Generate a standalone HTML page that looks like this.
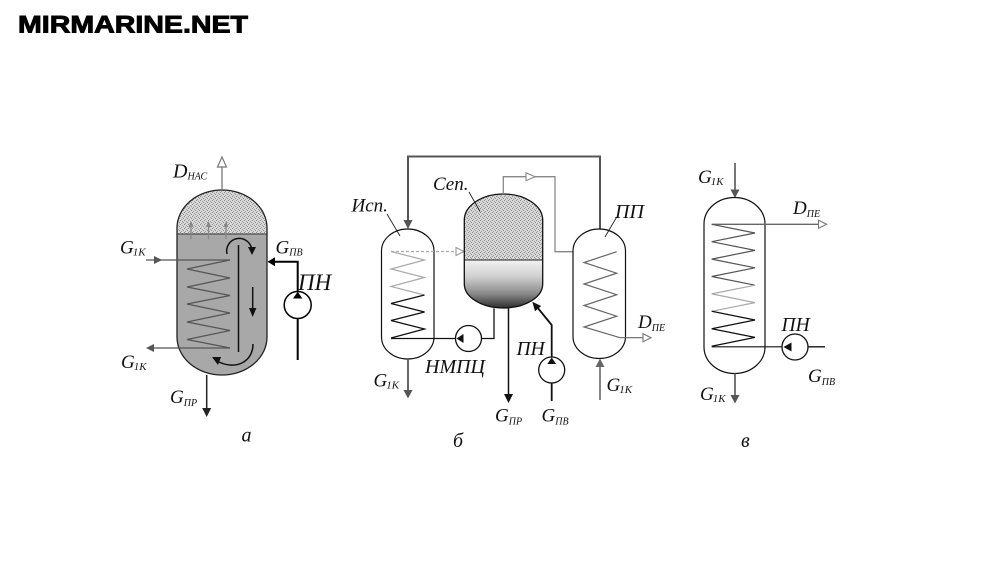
<!DOCTYPE html>
<html><head><meta charset="utf-8">
<style>
html,body{margin:0;padding:0;background:#fff}
svg{display:block}
.t{font-family:"Liberation Serif","DejaVu Serif",serif;font-style:italic;fill:#111}
.logo{font-family:"Liberation Sans",sans-serif;font-weight:bold;fill:#000}
</style></head>
<body>
<svg width="1000" height="580" viewBox="0 0 1000 580" xmlns="http://www.w3.org/2000/svg">
<defs>
<pattern id="sp" width="4" height="4" patternUnits="userSpaceOnUse">
<rect width="4" height="4" fill="#d8d8d8"/>
<rect x="0" y="0" width="1" height="1" fill="#8a8a8a"/>
<rect x="2" y="1" width="1" height="1" fill="#999"/>
<rect x="1" y="3" width="1" height="1" fill="#9a9a9a"/>
<rect x="3" y="2" width="1" height="1" fill="#8e8e8e"/>
</pattern>
<linearGradient id="lg" x1="0" y1="260" x2="0" y2="308" gradientUnits="userSpaceOnUse">
<stop offset="0" stop-color="#f2f2f2"/>
<stop offset="0.35" stop-color="#cfcfcf"/>
<stop offset="0.7" stop-color="#8a8a8a"/>
<stop offset="1" stop-color="#2e2e2e"/>
</linearGradient>
<clipPath id="ca"><path d="M177,228 A45,38 0 0 1 267,228 L267,337 A45,38 0 0 1 177,337 Z"/></clipPath>
<clipPath id="cs"><path d="M464.3,220 A39.2,26 0 0 1 542.7,220 L542.7,284 A39.2,24 0 0 1 464.3,284 Z"/></clipPath>
</defs>

<rect width="1000" height="580" fill="#fff"/>

<!-- logo -->
<text class="logo" x="18" y="32.5" font-size="24" textLength="230" lengthAdjust="spacingAndGlyphs" stroke="#000" stroke-width="0.9">MIRMARINE.NET</text>

<!-- ================= Diagram a ================= -->
<g clip-path="url(#ca)">
<rect x="170" y="185" width="100" height="49" fill="url(#sp)"/>
<rect x="170" y="234" width="100" height="145" fill="#a8a8a8"/>
</g>
<path d="M177,228 A45,38 0 0 1 267,228 L267,337 A45,38 0 0 1 177,337 Z" fill="none" stroke="#222" stroke-width="1.3"/>
<line x1="177" y1="234" x2="267" y2="234" stroke="#333" stroke-width="1"/>

<!-- steam arrows inside dome -->
<g stroke="#888" stroke-width="1.3" fill="#888">
<line x1="191" y1="239" x2="191" y2="226"/><polygon points="191,221 188.5,227 193.5,227" stroke="none"/>
<line x1="208.5" y1="239" x2="208.5" y2="226"/><polygon points="208.5,221 206,227 211,227" stroke="none"/>
<line x1="226" y1="239" x2="226" y2="226"/><polygon points="226,221 223.5,227 228.5,227" stroke="none"/>
</g>

<!-- D_HAC outlet -->
<line x1="222" y1="190" x2="222" y2="167" stroke="#777" stroke-width="1.3"/>
<polygon points="222,157 217.5,167 226.5,167" fill="#fff" stroke="#777" stroke-width="1.2"/>

<!-- coil a -->
<g stroke="#555" stroke-width="1.2" fill="none">
<line x1="146" y1="260" x2="230" y2="260"/>
<polyline points="230,260 187,269 230,278 187,287 230,295.5 187,304 230,313 187,322 230,330.5 187,339.5 230,348"/>
<line x1="230" y1="348" x2="150" y2="348"/>
</g>
<polygon points="162,260 154,256 154,264" fill="#555"/>
<polygon points="146,348 154,344 154,352" fill="#555"/>

<!-- baffle and circulation arrows -->
<line x1="238.5" y1="245" x2="238.5" y2="352" stroke="#111" stroke-width="1.5"/>
<path d="M227,254 A12.5,12.5 0 0 1 251.5,248" fill="none" stroke="#111" stroke-width="1.5"/>
<polygon points="248,247 256,247 252,255" fill="#111"/>
<line x1="252.7" y1="287" x2="252.7" y2="309" stroke="#111" stroke-width="1.5"/>
<polygon points="249,308 256.4,308 252.7,317" fill="#111"/>
<path d="M253,344 C253,362 236,370 219,362" fill="none" stroke="#111" stroke-width="1.5"/>
<polygon points="212,357 221,357 218,365" fill="#111"/>

<!-- drain G_ПР -->
<line x1="206.7" y1="375" x2="206.7" y2="409" stroke="#222" stroke-width="1.5"/>
<polygon points="206.7,417 202.2,408 211.2,408" fill="#222"/>

<!-- feed pump a -->
<polyline points="297.7,291.5 297.7,261.7 274,261.7" fill="none" stroke="#000" stroke-width="2"/>
<polygon points="267.5,261.7 275,257.2 275,266.2" fill="#000"/>
<line x1="297.7" y1="318.5" x2="297.7" y2="360" stroke="#000" stroke-width="2"/>
<circle cx="297.7" cy="305" r="13.5" fill="#fff" stroke="#000" stroke-width="1.5"/>
<polygon points="297.7,291.7 293,298.5 302.4,298.5" fill="#000"/>

<!-- labels a -->
<text class="t" x="173" y="177.5" font-size="20">D<tspan font-size="10" dy="2">НАС</tspan></text>
<text class="t" x="120" y="253.5" font-size="19">G<tspan font-size="11" dx="-1" dy="2">1K</tspan></text>
<text class="t" x="275.5" y="253.5" font-size="19">G<tspan font-size="10" dy="2">ПВ</tspan></text>
<text class="t" x="298" y="290" font-size="23">ПН</text>
<text class="t" x="121" y="368" font-size="19">G<tspan font-size="11" dx="-1" dy="2">1K</tspan></text>
<text class="t" x="170" y="403" font-size="19">G<tspan font-size="10" dy="3">ПР</tspan></text>
<text class="t" x="241.5" y="441.5" font-size="20">а</text>

<!-- ================= Diagram б ================= -->
<polyline points="408,221 408,156.5 600,156.5 600,229.3" fill="none" stroke="#555" stroke-width="2"/>
<polygon points="408,229 403.5,220 412.5,220" fill="#555"/>

<!-- left vessel (Исп.) -->
<path d="M381.5,251 A26.25,22 0 0 1 434,251 L434,337 A26.25,22 0 0 1 381.5,337 Z" fill="#fff" stroke="#111" stroke-width="1.2"/>
<line x1="391" y1="251.5" x2="456" y2="251.5" stroke="#aaa" stroke-width="1.3" stroke-dasharray="3,2"/>
<polygon points="464,251.5 456,247.5 456,255.5" fill="#fff" stroke="#999" stroke-width="1.1"/>
<polyline points="391,251.5 424.5,260 391,269 424.5,277.5 391,286.5 424.5,295" fill="none" stroke="#aaa" stroke-width="1.2"/>
<polyline points="424.5,295 391,303.5 424.5,312 391,320.5 424.5,329 391,338" fill="none" stroke="#111" stroke-width="1.3"/>
<line x1="391" y1="338.5" x2="456" y2="338.5" stroke="#111" stroke-width="1.2"/>

<line x1="408" y1="359" x2="408" y2="391" stroke="#555" stroke-width="1.8"/>
<polygon points="408,398.5 403.5,390 412.5,390" fill="#555"/>

<!-- НМПЦ pump -->
<polyline points="481.5,338.5 494,338.5 494,308.3" fill="none" stroke="#111" stroke-width="1.3"/>
<circle cx="468.5" cy="338.5" r="13" fill="#fff" stroke="#111" stroke-width="1.3"/>
<polygon points="456.5,338.5 463.5,334 463.5,343" fill="#111"/>

<!-- separator -->
<g clip-path="url(#cs)">
<rect x="460" y="190" width="90" height="70" fill="url(#sp)"/>
<rect x="460" y="260" width="90" height="52" fill="url(#lg)"/>
</g>
<path d="M464.3,220 A39.2,26 0 0 1 542.7,220 L542.7,284 A39.2,24 0 0 1 464.3,284 Z" fill="none" stroke="#111" stroke-width="1.3"/>
<line x1="464.3" y1="260" x2="542.7" y2="260" stroke="#222" stroke-width="1"/>

<!-- steam line -->
<polyline points="503.3,194.3 503.3,176.7 555,176.7 555,251.7 617,251.7" fill="none" stroke="#888" stroke-width="1.3"/>
<polygon points="535,176.7 526,172.7 526,180.7" fill="#fff" stroke="#888" stroke-width="1.1"/>

<!-- drain -->
<line x1="508.5" y1="308.3" x2="508.5" y2="395" stroke="#111" stroke-width="1.5"/>
<polygon points="508.5,403 504,394 513,394" fill="#111"/>

<!-- feed pump б -->
<polyline points="551.7,357 551.7,325 537,307" fill="none" stroke="#111" stroke-width="1.8"/>
<polygon points="532.3,301.7 541.2,306 535,311.2" fill="#111"/>
<line x1="551.7" y1="383" x2="551.7" y2="401" stroke="#111" stroke-width="1.8"/>
<circle cx="551.7" cy="370" r="13" fill="#fff" stroke="#111" stroke-width="1.3"/>
<polygon points="551.7,357.5 547.3,364 556.1,364" fill="#111"/>

<!-- ПП vessel -->
<path d="M573,251 A26.25,22 0 0 1 625.5,251 L625.5,336.5 A26.25,22 0 0 1 573,336.5 Z" fill="#fff" stroke="#111" stroke-width="1.2"/>
<polyline points="616.7,251.7 584,262.5 616.7,273.2 584,284 616.7,294.7 584,305.5 616.7,316.2 584,327 620,337.7 643,337.7" fill="none" stroke="#666" stroke-width="1.2"/>
<polygon points="651,337.7 643,333.7 643,341.7" fill="#fff" stroke="#777" stroke-width="1.1"/>
<line x1="600" y1="400" x2="600" y2="366" stroke="#666" stroke-width="1.6"/>
<polygon points="600,358.5 595.5,367 604.5,367" fill="#666"/>

<!-- leaders -->
<line x1="387" y1="214" x2="400" y2="236" stroke="#222" stroke-width="0.9"/>
<line x1="469" y1="192" x2="480" y2="211.5" stroke="#222" stroke-width="0.9"/>
<line x1="616.7" y1="217" x2="605" y2="237" stroke="#222" stroke-width="0.9"/>

<!-- labels б -->
<text class="t" x="351.5" y="211.5" font-size="19">Исп.</text>
<text class="t" x="433" y="190" font-size="19">Сеп.</text>
<text class="t" x="615" y="218" font-size="20">ПП</text>
<text class="t" x="425" y="373" font-size="20">НМПЦ</text>
<text class="t" x="516.5" y="355" font-size="19.5">ПН</text>
<text class="t" x="373.5" y="386.5" font-size="19">G<tspan font-size="11" dx="-1" dy="2">1K</tspan></text>
<text class="t" x="495" y="421.5" font-size="19">G<tspan font-size="10" dy="3">ПР</tspan></text>
<text class="t" x="541.5" y="421.5" font-size="19">G<tspan font-size="10" dy="3">ПВ</tspan></text>
<text class="t" x="606.5" y="391" font-size="19">G<tspan font-size="11" dx="-1" dy="2">1K</tspan></text>
<text class="t" x="638" y="328" font-size="19">D<tspan font-size="10" dy="3">ПЕ</tspan></text>
<text class="t" x="453" y="447" font-size="20">б</text>

<!-- ================= Diagram в ================= -->
<line x1="735" y1="163" x2="735" y2="190" stroke="#555" stroke-width="1.6"/>
<polygon points="735,198 730.5,189.5 739.5,189.5" fill="#555"/>
<path d="M704,224 A30.5,26.5 0 0 1 765,224 L765,347 A30.5,26.5 0 0 1 704,347 Z" fill="#fff" stroke="#111" stroke-width="1.2"/>
<line x1="711.7" y1="224.3" x2="818.5" y2="224.3" stroke="#666" stroke-width="1.3"/>
<polygon points="826.7,224.3 818.5,220.3 818.5,228.3" fill="#fff" stroke="#777" stroke-width="1.1"/>
<polyline points="711.7,224.3 755,233 711.7,241.7 755,250.4 711.7,259.1 755,267.8 711.7,276.5 755,285.2" fill="none" stroke="#555" stroke-width="1.2"/>
<polyline points="755,285.2 711.7,293.9 755,302.6 711.7,311.3" fill="none" stroke="#aaa" stroke-width="1.2"/>
<polyline points="711.7,311.3 755,320 711.7,328.7 755,337.4 711.7,346.3" fill="none" stroke="#111" stroke-width="1.3"/>
<line x1="711.7" y1="346.8" x2="782" y2="346.8" stroke="#111" stroke-width="1.2"/>
<line x1="808" y1="346.8" x2="825" y2="346.8" stroke="#111" stroke-width="1.3"/>
<circle cx="795" cy="347" r="13" fill="#fff" stroke="#111" stroke-width="1.3"/>
<polygon points="783.5,347 791.5,342.5 791.5,351.5" fill="#111"/>
<line x1="735" y1="373.3" x2="735" y2="396" stroke="#555" stroke-width="1.6"/>
<polygon points="735,403.5 730.5,395 739.5,395" fill="#555"/>

<!-- labels в -->
<text class="t" x="698" y="183" font-size="19">G<tspan font-size="11" dx="-1" dy="2">1K</tspan></text>
<text class="t" x="793" y="214" font-size="19">D<tspan font-size="10" dy="3">ПЕ</tspan></text>
<text class="t" x="781.5" y="331" font-size="19.5">ПН</text>
<text class="t" x="808" y="382" font-size="19">G<tspan font-size="10" dy="3">ПВ</tspan></text>
<text class="t" x="700" y="400" font-size="19">G<tspan font-size="11" dx="-1" dy="2">1K</tspan></text>
<text class="t" x="741" y="447" font-size="20">в</text>
</svg>
</body></html>
